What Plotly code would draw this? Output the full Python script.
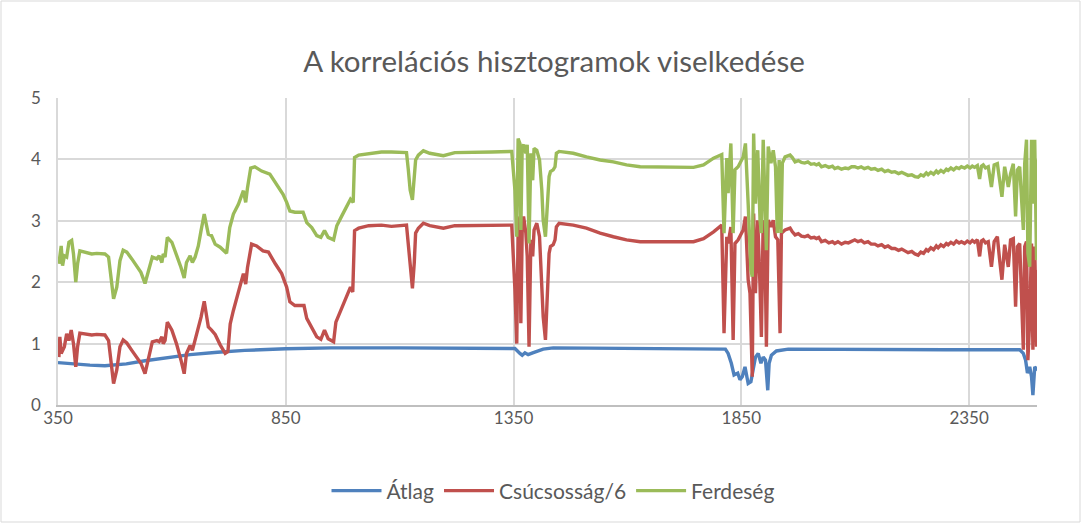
import plotly.graph_objects as go

# ---- data ----
atlag_x = [350, 380, 420, 453, 480, 500, 541, 585, 640, 700, 760, 850, 950, 1100, 1346,
           1353, 1364, 1369, 1375, 1382, 1392, 1415, 1437, 1600, 1815, 1821, 1828, 1834,
           1842, 1847, 1852, 1858, 1862, 1865, 1871, 1876, 1881, 1887, 1893, 1898, 1903,
           1908, 1911, 1916, 1927, 1953, 2100, 2300, 2461, 2469, 2474, 2478, 2483, 2487,
           2490, 2494, 2500]
atlag_y = [0.69, 0.67, 0.65, 0.64, 0.65, 0.67, 0.72, 0.77, 0.82, 0.86, 0.89, 0.915, 0.93, 0.93, 0.93,
           0.92, 0.84, 0.81, 0.85, 0.82, 0.85, 0.91, 0.93, 0.92, 0.91, 0.84, 0.68, 0.49,
           0.52, 0.41, 0.46, 0.62, 0.46, 0.35, 0.38, 0.62, 0.78, 0.84, 0.68, 0.78, 0.73,
           0.24, 0.68, 0.81, 0.88, 0.91, 0.90, 0.90, 0.90, 0.84, 0.73, 0.52, 0.62, 0.46,
           0.16, 0.62, 0.57]

csucs_x = [352, 354, 357, 364, 369, 374, 379, 384, 389, 393, 398, 409, 424, 435, 453, 461, 466,
           472, 479, 486, 493, 501, 512, 523, 532, 541, 548, 557, 567, 572, 578, 581, 585, 590,
           600, 610, 620, 627, 632, 640, 645, 651, 658, 664, 671, 680, 687, 695, 706, 717, 723,
           728, 735, 745, 757, 762, 766, 775, 786, 800, 812, 827, 841, 852, 859, 870, 890, 896,
           907, 918, 927, 935, 943, 955, 960, 973, 984, 992, 997, 1001, 1010, 1032, 1060, 1082,
           1115, 1119, 1123, 1128, 1132, 1135, 1141, 1152, 1166, 1196, 1221, 1265, 1302, 1346,
           1353, 1357, 1360, 1364, 1366, 1369, 1372, 1377, 1380, 1384, 1388, 1392, 1395, 1401,
           1407, 1412, 1415, 1420, 1424, 1428, 1431, 1437, 1441, 1444, 1450, 1481, 1510, 1540,
           1569, 1598, 1628, 1686, 1745, 1767, 1789, 1807, 1812, 1818, 1821, 1827, 1832, 1836,
           1843, 1854, 1859, 1865, 1869, 1874, 1877, 1881, 1886, 1891, 1894, 1898, 1902, 1905,
           1909, 1915, 1920, 1925, 1930, 1935, 1938,
           1946, 1957, 1962, 1968, 1975, 1982, 1989, 1996, 2003, 2010, 2015, 2020, 2026, 2034,
           2042, 2050, 2055, 2062, 2070, 2078, 2085, 2092, 2099, 2106, 2113, 2120, 2128, 2135,
           2143, 2150, 2158, 2165, 2172, 2180, 2187, 2195, 2202, 2209, 2216, 2224, 2231, 2238,
           2244, 2250, 2256, 2260, 2266, 2272, 2278, 2282, 2288, 2294, 2300, 2304, 2310, 2316,
           2322, 2328, 2333, 2340, 2346, 2352, 2357, 2362, 2368, 2373, 2377, 2381, 2386, 2392,
           2399, 2405, 2412, 2417, 2422, 2428, 2436, 2441, 2447, 2452, 2456, 2461, 2465, 2469,
           2472, 2476, 2479, 2483, 2487, 2490, 2494, 2498, 2500]
csucs_y = [0.78, 1.11, 0.84, 0.95, 1.16, 1.05, 1.22, 1.00, 0.62, 0.95, 1.17, 1.16, 1.14, 1.15, 1.14, 1.05, 0.73,
           0.35, 0.57, 0.95, 1.06, 1.01, 0.89, 0.78, 0.68, 0.51, 0.73, 1.03, 1.05, 1.03, 1.11, 1.00, 1.05, 1.35,
           1.22, 1.00, 0.73, 0.51, 0.84, 0.97, 0.89, 1.05, 1.22, 1.43, 1.69, 1.27, 1.22, 1.15, 0.98, 0.84, 0.87,
           1.32, 1.54, 1.81, 2.14, 1.97, 2.24, 2.62, 2.59, 2.51, 2.49, 2.30, 2.14, 1.92, 1.68, 1.62, 1.62, 1.41,
           1.27, 1.11, 1.07, 1.22, 1.08, 1.03, 1.35, 1.59, 1.76, 1.92, 1.84, 2.84, 2.88, 2.92, 2.93, 2.91,
           2.93, 2.58, 2.20, 1.90, 2.31, 2.80, 2.88, 2.96, 2.92, 2.88, 2.92, 2.92, 2.93, 2.93,
           1.88, 1.00, 2.85, 3.07, 1.33, 2.85, 3.07, 2.80, 2.42, 0.95, 2.69, 2.42, 2.85, 2.96,
           2.74, 1.98, 1.44, 1.06, 1.87, 2.47, 2.58, 2.61, 2.69, 2.90, 2.96, 2.93, 2.88, 2.80,
           2.74, 2.69, 2.66, 2.66, 2.66, 2.71, 2.82, 2.93, 1.17, 2.74, 2.63, 2.90, 1.06, 2.63,
           2.69, 2.85, 3.07, 2.04, 1.82, 0.46, 3.12, 1.82, 3.01, 1.93, 1.11, 3.01, 2.47, 0.95,
           3.01, 2.90, 3.01, 2.74, 2.69, 1.17, 2.80,
           2.85, 2.88, 2.82, 2.77, 2.79, 2.75, 2.74, 2.76, 2.72, 2.73, 2.71, 2.73, 2.66, 2.68,
           2.64, 2.66, 2.63, 2.66, 2.62, 2.65, 2.64, 2.67, 2.69, 2.66, 2.68, 2.64, 2.66, 2.62,
           2.62, 2.59, 2.61, 2.57, 2.59, 2.55, 2.55, 2.52, 2.54, 2.51, 2.48, 2.50, 2.46, 2.44,
           2.49, 2.47, 2.53, 2.51, 2.56, 2.53, 2.59, 2.56, 2.61, 2.58, 2.63, 2.61, 2.65, 2.62,
           2.67, 2.64, 2.66, 2.63, 2.67, 2.64, 2.68, 2.65, 2.69, 2.42, 2.67, 2.69, 2.64, 2.66,
           2.25, 2.66, 2.74, 2.36, 2.04, 2.61, 2.25, 2.69, 2.71, 1.60, 2.58, 2.63, 1.71, 0.90,
           2.58, 2.66, 0.73, 1.38, 2.63, 0.90, 2.58, 0.95, 2.20]

ferd_x = [352, 357, 360, 364, 369, 374, 380, 384, 389, 393, 398, 409, 424, 435, 453, 461, 466,
          472, 479, 486, 493, 501, 512, 523, 532, 541, 548, 557, 567, 572, 578, 581, 585, 590,
          600, 610, 620, 627, 632, 640, 645, 651, 658, 664, 671, 680, 687, 695, 706, 720, 727,
          735, 746, 757, 762, 766, 773, 782, 797, 815, 830, 844, 852, 859, 870, 888, 896, 907,
          918, 927, 935, 943, 955, 962, 973, 984, 992, 998, 1001, 1010, 1032, 1060, 1082, 1115,
          1119, 1123, 1128, 1132, 1135, 1141, 1152, 1166, 1196, 1221, 1265, 1302, 1346, 1353,
          1357, 1360, 1364, 1366, 1369, 1372, 1377, 1380, 1384, 1388, 1392, 1395, 1401, 1407,
          1412, 1415, 1420, 1424, 1428, 1431, 1437, 1441, 1444, 1450, 1481, 1510, 1540, 1569,
          1598, 1628, 1686, 1745, 1767, 1789, 1807, 1812, 1818, 1821, 1827, 1832, 1836, 1843,
          1854, 1859, 1865, 1871, 1874, 1877, 1881, 1886, 1891, 1894, 1898, 1902, 1905, 1909,
          1915, 1920, 1925, 1929, 1933, 1937, 1940,
          1946, 1957, 1962, 1968, 1975, 1982, 1989, 1996, 2003, 2010, 2015, 2020, 2026, 2034,
          2042, 2050, 2055, 2062, 2070, 2078, 2085, 2092, 2099, 2106, 2113, 2120, 2128, 2135,
          2143, 2150, 2158, 2165, 2172, 2180, 2187, 2195, 2202, 2209, 2216, 2224, 2231, 2238,
          2244, 2250, 2256, 2260, 2266, 2272, 2278, 2282, 2288, 2294, 2300, 2304, 2310, 2316,
          2322, 2328, 2333, 2340, 2346, 2352, 2357, 2362, 2368, 2373, 2377, 2381, 2386, 2392,
          2399, 2405, 2412, 2417, 2422, 2428, 2436, 2441, 2447, 2452, 2456, 2461, 2465, 2469,
          2472, 2476, 2479, 2483, 2487, 2490, 2494, 2498, 2500]
ferd_y = [2.30, 2.59, 2.27, 2.43, 2.41, 2.65, 2.68, 2.46, 2.00, 2.30, 2.51, 2.49, 2.46, 2.47, 2.46, 2.41, 2.14,
          1.73, 1.92, 2.35, 2.52, 2.49, 2.38, 2.27, 2.16, 1.98, 2.19, 2.41, 2.38, 2.43, 2.32, 2.46, 2.41, 2.73,
          2.65, 2.46, 2.24, 2.07, 2.32, 2.43, 2.32, 2.41, 2.59, 2.84, 3.11, 2.78, 2.76, 2.62, 2.57, 2.47, 2.89,
          3.11, 3.27, 3.49, 3.30, 3.54, 3.86, 3.88, 3.81, 3.76, 3.59, 3.43, 3.30, 3.16, 3.14, 3.14, 2.97, 2.89,
          2.76, 2.73, 2.84, 2.73, 2.69, 2.92, 3.08, 3.24, 3.35, 3.30, 4.03, 4.07, 4.09, 4.12, 4.12, 4.11,
          3.83, 3.50, 3.34, 3.66, 3.99, 4.07, 4.14, 4.10, 4.06, 4.11, 4.11, 4.12, 4.13, 3.50,
          2.74, 4.34, 4.26, 2.85, 4.21, 4.24, 4.10, 4.24, 2.63, 4.10, 3.66, 4.18, 4.15, 3.99,
          3.50, 3.01, 2.74, 3.23, 3.72, 3.80, 3.83, 3.88, 4.10, 4.13, 4.10, 4.04, 3.99, 3.96,
          3.91, 3.88, 3.87, 3.87, 3.91, 4.02, 4.08, 2.80, 4.02, 3.45, 4.26, 2.80, 3.83, 3.88,
          4.04, 4.26, 3.28, 2.20, 2.09, 4.42, 3.28, 4.15, 3.01, 2.80, 4.32, 3.45, 2.52, 4.21,
          3.94, 4.15, 3.88, 2.80, 3.99, 2.80, 3.94,
          4.04, 4.07, 4.03, 3.96, 3.98, 3.95, 3.94, 3.96, 3.92, 3.93, 3.91, 3.93, 3.88, 3.90,
          3.87, 3.89, 3.85, 3.87, 3.84, 3.86, 3.85, 3.88, 3.88, 3.86, 3.88, 3.85, 3.87, 3.84,
          3.85, 3.82, 3.84, 3.80, 3.82, 3.79, 3.80, 3.77, 3.79, 3.76, 3.74, 3.75, 3.72, 3.71,
          3.75, 3.73, 3.78, 3.75, 3.79, 3.76, 3.81, 3.78, 3.82, 3.79, 3.84, 3.82, 3.86, 3.83,
          3.87, 3.85, 3.88, 3.86, 3.89, 3.86, 3.89, 3.87, 3.90, 3.68, 3.89, 3.91, 3.86, 3.88,
          3.55, 3.91, 3.93, 3.66, 3.39, 3.88, 3.55, 3.77, 3.93, 3.07, 3.83, 3.88, 3.28, 2.85,
          3.93, 4.32, 2.47, 2.25, 4.32, 3.28, 4.32, 2.36, 4.00]

assert len(atlag_x) == len(atlag_y)
assert len(csucs_x) == len(csucs_y)
assert len(ferd_x) == len(ferd_y)

tick_vals = [350, 850, 1350, 1850, 2350]
tick_text = ["350", "850", "1350", "1850", "2350"]
series_names = ["Átlag", "Csúcsosság/6", "Ferdeség"]
series_colors = ["#4f81bd", "#c0504d", "#9bbb59"]

FONT = "Lato, 'Open Sans', sans-serif"
TXT = "#595959"

fig = go.Figure()
for (xs, ys), name, col in zip([(atlag_x, atlag_y), (csucs_x, csucs_y), (ferd_x, ferd_y)],
                               series_names, series_colors):
    fig.add_trace(go.Scatter(x=xs, y=ys, mode="lines", name=name,
                             line=dict(color=col, width=3.4)))

L, R, T, B = 58, 45, 98, 119
W, H = 1082, 524
pw, ph = W - L - R, H - T - B

fig.update_layout(
    width=W, height=H,
    margin=dict(l=L, r=R, t=T, b=B),
    paper_bgcolor="white", plot_bgcolor="white",
    title=dict(text="A korrelációs hisztogramok viselkedése", x=554 / W, xanchor="center",
               y=1 - 62 / H, yanchor="middle",
               font=dict(family=FONT, size=29.5, color=TXT)),
    font=dict(family=FONT, size=17, color=TXT),
    showlegend=True,
    legend=dict(orientation="h", x=(553 - L) / pw, xanchor="center", y=(405 - 491) / ph,
                yanchor="middle",
                font=dict(family=FONT, size=21, color=TXT), itemwidth=50,
                bgcolor="rgba(0,0,0,0)"),
    xaxis=dict(range=[350, 2499], tickvals=tick_vals, ticktext=tick_text,
               showgrid=True, gridcolor="#d9d9d9", gridwidth=1.5,
               showline=True, linecolor="#bfbfbf", linewidth=1.5,
               zeroline=False, ticks="", ticklabelstandoff=-3,
               tickfont=dict(size=17, color=TXT)),
    yaxis=dict(range=[0, 5], dtick=1, showgrid=True, gridcolor="#d9d9d9", gridwidth=1.5,
               showline=True, linecolor="#d9d9d9", linewidth=1.5,
               zeroline=False, ticks="", ticklabelstandoff=12,
               tickfont=dict(size=17, color=TXT)),
)

# chart-area border
fig.add_shape(type="rect", xref="paper", yref="paper",
              x0=(-L + 1) / pw, x1=1 + (R - 2) / pw, y0=(-B + 2) / ph, y1=1 + (T - 1) / ph,
              line=dict(color="#d9d9d9", width=1), layer="below")

fig.write_html("out.html", config={"displayModeBar": False},
               post_script="document.body.style.margin='0';")
